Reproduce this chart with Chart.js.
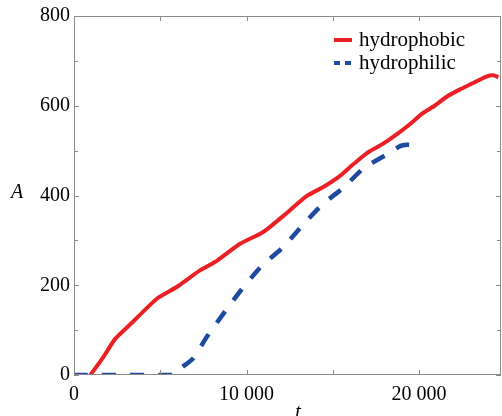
<!DOCTYPE html>
<html>
<head>
<meta charset="utf-8">
<script src="https://cdn.jsdelivr.net/npm/chart.js@4/dist/chart.umd.min.js"></script>
<style>
  html, body { margin: 0; padding: 0; background: #fff; }
  canvas { display: block; }
</style>
</head>
<body>
<canvas id="chart" width="502" height="416"></canvas>
<script>
// values
const hydrophobicT = [950, 1700, 2400, 3400, 4800, 5950, 7300, 8300, 9600, 10800, 11200, 12300, 13500, 14500, 15400, 16200, 17000, 17900, 18700, 19500, 20200, 20900, 21600, 22400, 23100, 23900, 24300, 24600];
const hydrophobicA = [0, 40, 81, 118, 170, 196, 233, 255, 292, 315, 325, 360, 399, 420, 443, 470, 495, 515, 536, 560, 583, 600, 620, 637, 650, 665, 668, 664];
const hydrophilicT = [0, 5750, 5900, 6900, 7700, 8800, 9700, 10900, 12100, 13300, 14400, 15600, 16800, 18100, 18900, 19300, 19700];
const hydrophilicA = [0, 0, 7, 37, 85, 144, 190, 244, 284, 336, 380, 417, 461, 491, 510, 513, 512];
const xTicks = [0, 5000, 10000, 15000, 20000];
const xTickLabels = [0, 10000, 20000];
const yTickLabels = [0, 200, 400, 600, 800];

const red = "rgb(236, 32, 36)";
const blue = "rgb(30, 74, 160)";
const serif = "'Liberation Serif'";

function toPoints(xs, ys) {
  return xs.map((x, i) => ({ x: x, y: ys[i] }));
}

function fmt(v) {
  return String(v).replace(/\B(?=(\d{3})+(?!\d))/g, " ");
}

// box frame, inward ticks, axis letters and legend
const framePlugin = {
  id: "frame",
  afterDraw(chart) {
    const ctx = chart.ctx;
    const a = chart.chartArea;
    const xs = chart.scales.x;
    const ys = chart.scales.y;
    ctx.save();
    ctx.strokeStyle = "#8a8a8a";
    ctx.lineWidth = 1;
    ctx.strokeRect(a.left + 0.5, a.top + 0.5, a.right - a.left - 1, a.bottom - a.top - 1);
    ctx.beginPath();
    xs.ticks.forEach(t => {
      const px = Math.round(xs.getPixelForValue(t.value)) + 0.5;
      ctx.moveTo(px, a.bottom);
      ctx.lineTo(px, a.bottom - 5);
      ctx.moveTo(px, a.top);
      ctx.lineTo(px, a.top + 5);
    });
    ys.ticks.forEach(t => {
      const py = Math.round(ys.getPixelForValue(t.value)) + 0.5;
      const len = yTickLabels.includes(t.value) ? 5 : 4;
      ctx.moveTo(a.left, py);
      ctx.lineTo(a.left + len, py);
      ctx.moveTo(a.right, py);
      ctx.lineTo(a.right - len, py);
    });
    ctx.stroke();

    // axis letters
    ctx.fillStyle = "#000";
    ctx.font = "italic 20px " + serif;
    ctx.textAlign = "center";
    ctx.textBaseline = "middle";
    ctx.fillText("A", 17, 193);
    ctx.fillText("t", 298, 413);

    // legend
    ctx.font = "21px " + serif;
    ctx.textAlign = "left";
    const items = [chart.data.datasets[1], chart.data.datasets[0]];
    items.forEach((ds, i) => {
      const y = 40 + i * 23;
      ctx.strokeStyle = ds.borderColor;
      ctx.lineWidth = 4;
      ctx.setLineDash(ds.borderDash && ds.borderDash.length ? [6, 5] : []);
      ctx.beginPath();
      ctx.moveTo(334, y);
      ctx.lineTo(352, y);
      ctx.stroke();
      ctx.setLineDash([]);
      ctx.fillStyle = "#000";
      ctx.fillText(ds.label, 359, y);
    });
    ctx.restore();
  }
};

new Chart(document.getElementById("chart"), {
  type: "line",
  data: {
    datasets: [
      {
        label: "hydrophilic",
        data: toPoints(hydrophilicT, hydrophilicA),
        borderColor: blue,
        borderWidth: 4.5,
        borderDash: [14, 14],
        pointRadius: 0,
        tension: 0.2,
        order: 0
      },
      {
        label: "hydrophobic",
        data: toPoints(hydrophobicT, hydrophobicA),
        borderColor: red,
        borderWidth: 4,
        pointRadius: 0,
        tension: 0.2,
        order: 1
      }
    ]
  },
  options: {
    responsive: false,
    animation: false,
    devicePixelRatio: 1,
    layout: { padding: { top: 14, right: 1, left: 0, bottom: 0 } },
    plugins: { legend: { display: false }, tooltip: { enabled: false } },
    scales: {
      x: {
        type: "linear",
        min: 0,
        max: 24750,
        grid: { display: false, drawTicks: false },
        border: { display: false },
        afterBuildTicks: s => { s.ticks = xTicks.map(v => ({ value: v })); },
        ticks: {
          maxRotation: 0,
          autoSkip: false,
          padding: 8,
          color: "#000",
          font: { family: serif, size: 20 },
          callback: v => xTickLabels.includes(v) ? fmt(v) : ""
        },
        afterFit: s => { s.height = 41; }
      },
      y: {
        min: 0,
        max: 800,
        grid: { display: false, drawTicks: false },
        border: { display: false },
        ticks: {
          stepSize: 100,
          autoSkip: false,
          padding: 4,
          color: "#000",
          font: { family: serif, size: 20 },
          callback: v => yTickLabels.includes(v) ? String(v) : ""
        },
        afterFit: s => { s.width = 74; }
      }
    }
  },
  plugins: [framePlugin]
});
</script>
</body>
</html>
